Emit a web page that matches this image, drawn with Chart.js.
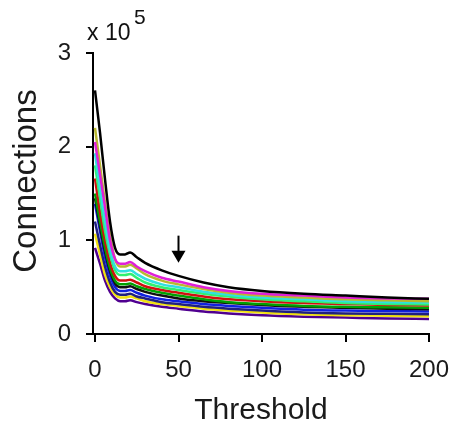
<!DOCTYPE html>
<html>
<head>
<meta charset="utf-8">
<script src="https://cdn.jsdelivr.net/npm/chart.js@4/dist/chart.umd.min.js"></script>
<style>
html,body{margin:0;padding:0;background:#fff;}
#wrap{width:454px;height:429px;}
</style>
</head>
<body>
<div id="wrap"><canvas id="c" width="454" height="429"></canvas></div>
<script>
// Threshold values (x axis)
const thresholds = [0,3,6,9,12,15,18,21,25,30,40,50,65,80,100,125,150,175,200];
// Connections, in units of 10^5
const sBlack   = [2.60,2.15,1.65,1.20,0.92,0.85,0.85,0.87,0.82,0.76,0.68,0.62,0.55,0.50,0.46,0.43,0.41,0.39,0.375];
const sOlive   = [2.20,1.80,1.40,1.05,0.80,0.72,0.72,0.74,0.70,0.64,0.57,0.53,0.48,0.44,0.41,0.39,0.37,0.36,0.35];
const sMagenta = [2.05,1.70,1.35,1.00,0.80,0.75,0.75,0.77,0.72,0.67,0.60,0.56,0.50,0.46,0.43,0.41,0.39,0.38,0.375];
const sCyan    = [1.93,1.55,1.20,0.90,0.72,0.67,0.67,0.68,0.64,0.59,0.53,0.50,0.45,0.42,0.39,0.37,0.35,0.34,0.335];
const sLime    = [1.80,1.45,1.10,0.85,0.68,0.63,0.63,0.64,0.60,0.55,0.50,0.47,0.43,0.40,0.37,0.35,0.33,0.32,0.315];
const sRed     = [1.66,1.30,1.00,0.76,0.62,0.57,0.57,0.58,0.55,0.51,0.47,0.44,0.40,0.37,0.35,0.33,0.32,0.31,0.305];
const sGreen   = [1.50,1.20,0.92,0.70,0.57,0.53,0.53,0.54,0.51,0.48,0.44,0.41,0.37,0.34,0.32,0.30,0.29,0.285,0.28];
const sBlack2  = [1.45,1.15,0.88,0.67,0.54,0.50,0.50,0.51,0.48,0.45,0.41,0.38,0.35,0.33,0.31,0.29,0.28,0.27,0.265];
const sBlue    = [1.39,1.10,0.82,0.62,0.50,0.46,0.46,0.47,0.44,0.41,0.37,0.35,0.32,0.30,0.28,0.26,0.25,0.245,0.24];
const sNavy    = [1.20,0.95,0.72,0.55,0.45,0.42,0.42,0.43,0.40,0.38,0.34,0.32,0.29,0.27,0.25,0.23,0.22,0.215,0.21];
const sYellow  = [1.07,0.85,0.63,0.50,0.42,0.39,0.39,0.40,0.38,0.35,0.32,0.30,0.27,0.25,0.23,0.21,0.20,0.195,0.19];
const sPurple  = [0.92,0.75,0.57,0.45,0.38,0.35,0.35,0.36,0.34,0.32,0.29,0.27,0.24,0.22,0.20,0.185,0.175,0.165,0.16];

const seriesList = [
  ['black', sBlack, '#000000'],
  ['magenta', sMagenta, '#e020d8'],
  ['olive', sOlive, '#b8b830'],
  ['cyan', sCyan, '#30e0e0'],
  ['lime', sLime, '#30f070'],
  ['red', sRed, '#d01010'],
  ['green', sGreen, '#00a000'],
  ['black2', sBlack2, '#101010'],
  ['blue', sBlue, '#1020e0'],
  ['navy', sNavy, '#202080'],
  ['yellow', sYellow, '#f0e010'],
  ['purple', sPurple, '#500090']
];

const xTicks = [0,50,100,150,200];
const yTicks = [0,1,2,3];
const xTitle = 'Threshold';
const yTitle = 'Connections';
const arrowAt = 50;
const arrowTop = 1.05, arrowTip = 0.76;

const FONT = '"Liberation Sans", Arial, sans-serif';

const datasets = seriesList.map(([name, vals, col]) => ({
  label: name,
  data: thresholds.map((t,i)=>({x:t, y:vals[i]})),
  borderColor: col,
  borderWidth: 2.5,
  pointRadius: 0,
  fill: false,
  cubicInterpolationMode: 'monotone'
}));

const extras = {
  id: 'extras',
  afterDraw(chart){
    const ctx = chart.ctx;
    const xs = chart.scales.x, ys = chart.scales.y;
    ctx.save();
    // exponent label
    ctx.fillStyle = '#111';
    ctx.textBaseline = 'middle';
    ctx.textAlign = 'left';
    ctx.font = '23px ' + FONT;
    ctx.fillText('x 10', 87, 34);
    ctx.font = '21px ' + FONT;
    ctx.fillText('5', 134, 18);
    // y title
    ctx.save();
    ctx.translate(27, 181);
    ctx.rotate(-Math.PI/2);
    ctx.textAlign = 'center';
    ctx.font = '33px ' + FONT;
    ctx.fillStyle = '#1a1a1a';
    ctx.fillText(yTitle, 0, 0);
    ctx.restore();
    // arrow
    const ax = xs.getPixelForValue(arrowAt);
    const y1 = ys.getPixelForValue(arrowTop);
    const y2 = ys.getPixelForValue(arrowTip);
    ctx.strokeStyle = '#000';
    ctx.lineWidth = 2;
    ctx.beginPath();
    ctx.moveTo(ax, y1);
    ctx.lineTo(ax, y2 - 10);
    ctx.stroke();
    ctx.fillStyle = '#000';
    ctx.beginPath();
    ctx.moveTo(ax - 7, y2 - 12);
    ctx.lineTo(ax + 7, y2 - 12);
    ctx.lineTo(ax, y2);
    ctx.closePath();
    ctx.fill();
    ctx.restore();
  }
};

new Chart(document.getElementById('c'), {
  type: 'line',
  data: { datasets },
  plugins: [extras],
  options: {
    responsive: false,
    animation: false,
    layout: { padding: { top: 53, right: 25, left: 0, bottom: 0 } },
    plugins: { legend: { display: false }, tooltip: { enabled: false } },
    scales: {
      x: {
        type: 'linear',
        min: -1.2, max: 200,
        afterBuildTicks: s => { s.ticks = xTicks.map(v=>({value:v})); },
        afterFit: s => { s.height = 95; s.paddingLeft = 0; s.paddingRight = 0; },
        ticks: { color: '#1a1a1a', font: { size: 24, family: FONT }, padding: 14, maxRotation: 0 },
        grid: { drawOnChartArea: false, drawTicks: true, tickLength: 8, color: '#000', lineWidth: 2 },
        border: { color: '#000', width: 2 },
        title: { display: true, text: xTitle, color: '#1a1a1a', font: { size: 30, family: FONT }, padding: { top: 0, bottom: 0 } }
      },
      y: {
        min: 0, max: 3,
        afterBuildTicks: s => { s.ticks = yTicks.map(v=>({value:v})); },
        afterFit: s => { s.width = 93; s.paddingTop = 0; s.paddingBottom = 0; },
        ticks: { color: '#1a1a1a', font: { size: 24, family: FONT }, padding: 15 },
        grid: { drawOnChartArea: false, drawTicks: true, tickLength: 7, color: '#000', lineWidth: 2 },
        border: { color: '#000', width: 2 }
      }
    }
  }
});
</script>
</body>
</html>
